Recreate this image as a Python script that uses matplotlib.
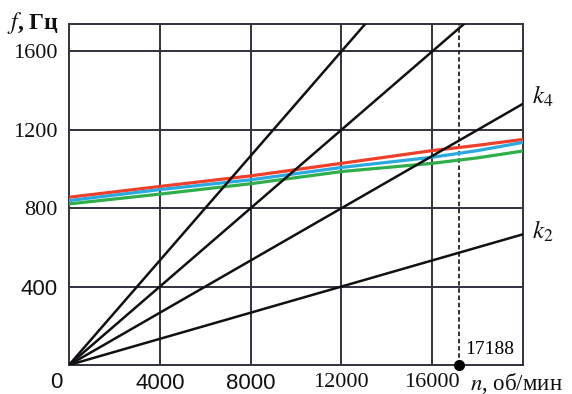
import matplotlib
matplotlib.use("Agg")
import matplotlib.pyplot as plt
import numpy as np

plt.rcParams['mathtext.fontset'] = 'stix'
plt.rcParams['font.family'] = ['Liberation Serif', 'DejaVu Serif']

# Harmonic lines f = k*n/60 (endpoints)
n_line = [0, 20000]
k2 = [0, 667]
k4 = [0, 1333]
k6 = [0, 2000]
k8 = [0, 2667]

# Natural frequency curves
n_curve = [0, 4000, 8000, 12000, 16000, 18000, 20000]
f_red = [856, 911, 965, 1029, 1094, 1121, 1151]
f_blue = [839, 895, 945, 1008, 1060, 1094, 1136]
f_green = [822, 872, 925, 987, 1029, 1057, 1092]

n_crit = 17188

xticks = [4000, 8000, 12000, 16000]
xtick_labels = ["4000", "8000", "12000", "16000"]
xtick_fonts = ["Liberation Sans", "Liberation Sans", "Liberation Serif", "Liberation Serif"]
yticks = [400, 800, 1200, 1600]
ytick_labels = ["400", "800", "1200", "1600"]
ytick_fonts = ["Liberation Sans", "Liberation Serif", "Liberation Serif", "Liberation Serif"]

W, H = 572, 394
fig = plt.figure(figsize=(W/100, H/100), dpi=100)
ax = fig.add_axes([69/W, (H-365)/H, (523-69)/W, (365-24)/H])
ax.set_xlim(0, 20000)
ax.set_ylim(0, 1740)

gridc = '#33303f'
for x in xticks:
    ax.axvline(x, color=gridc, lw=1.4, zorder=1)
for y in yticks:
    ax.axhline(y, color=gridc, lw=1.4, zorder=1)
for s in ax.spines.values():
    s.set_color(gridc)
    s.set_linewidth(1.4)

ax.plot(n_curve, f_red, color='#ef3f2a', lw=2.3, zorder=3)
ax.plot(n_curve, f_blue, color='#2aa9e0', lw=2.3, zorder=3)
ax.plot(n_curve, f_green, color='#2fae4a', lw=2.3, zorder=3)

for k in (k2, k4, k6, k8):
    ax.plot(n_line, k, color='#111111', lw=1.8, zorder=4)

ax.plot([n_crit, n_crit], [0, 1740], color='#222222', lw=1.3, ls=(0, (2.5, 1.5)), zorder=2)
ax.plot([n_crit], [0], 'o', color='black', ms=7, zorder=6, clip_on=False)
ax.text(17450, 80, "17188", fontsize=14, ha='left', va='center', family='Liberation Serif')

ax.set_xticks(xticks)
ax.set_xticklabels(xtick_labels)
ax.set_yticks(yticks)
ax.set_yticklabels(ytick_labels)
ax.tick_params(length=0, labelsize=16, colors='#111111')
ax.tick_params(axis='y', pad=8)
ax.tick_params(axis='x', pad=6)
for lab, fnt in zip(ax.get_xticklabels(), xtick_fonts):
    lab.set_fontfamily(fnt)
for lab, fnt in zip(ax.get_yticklabels(), ytick_fonts):
    lab.set_fontfamily(fnt)

fig.text(56/W, 1-383/H, "0", fontsize=16, ha='center', va='center', family='Liberation Sans', color='#111111')
fig.text(59/W, 1-23/H, "$f$, Гц", fontsize=17, ha='right', va='center', fontweight='bold', color='#111111')
fig.text(470/W, 1-383/H, "$n$, об/мин", fontsize=16.5, ha='left', va='center', color='#111111')
fig.text(532/W, 1-96/H, "$k_4$", fontsize=18, ha='left', va='center', color='#111111')
fig.text(532/W, 1-231/H, "$k_2$", fontsize=18, ha='left', va='center', color='#111111')

fig.savefig("out.png", dpi=100)
